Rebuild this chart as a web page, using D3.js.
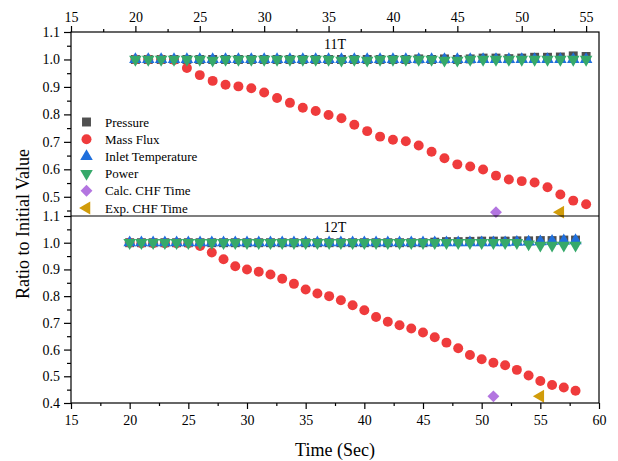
<!DOCTYPE html>
<html lang="en">
<head>
<meta charset="UTF-8">
<title>Ratio to Initial Value</title>
<script src="https://d3js.org/d3.v7.min.js"></script>
<style>
 body {margin: 0; padding: 0; background: #fff;}
 svg {display: block; font-family: "Liberation Serif", "Times New Roman", serif;}
 .axis path, .axis line {stroke: #000; stroke-width: 1.2px;}
 .axis text {font-size: 14px; fill: #000; font-family: "Liberation Serif", serif;}
 .frame {fill: none; stroke: #000; stroke-width: 1.2px;}
 .legend text {font-size: 13px; fill: #000;}
 .panel-title {font-size: 14px; text-anchor: middle;}
 .axis-title {font-size: 18px; text-anchor: middle;}
</style>
</head>
<body>
<svg id="chart" width="618" height="461"></svg>
<script>
// 11T run
const time11 = [20,21,22,23,24,25,26,27,28,29,30,31,32,33,34,35,36,37,38,39,40,41,42,43,44,45,46,47,48,49,50,51,52,53,54,55];
const pressure11 = [1.000,1.000,1.000,1.000,1.000,1.000,1.000,1.000,1.000,1.000,1.000,1.000,1.000,1.000,1.000,1.000,1.000,1.000,1.000,1.000,1.000,1.000,1.002,1.000,1.002,1.000,1.002,1.005,1.005,1.003,1.005,1.008,1.008,1.009,1.013,1.011];
const massFlux11 = [1.000,1.000,1.000,0.998,0.969,0.943,0.922,0.908,0.902,0.895,0.880,0.860,0.842,0.824,0.812,0.798,0.786,0.762,0.739,0.719,0.708,0.702,0.687,0.664,0.640,0.618,0.610,0.599,0.577,0.563,0.557,0.552,0.535,0.508,0.486,0.473];
const inletTemp11 = [1.000,1.000,1.000,1.000,1.000,1.000,1.000,1.000,1.000,1.000,1.000,1.000,1.000,1.000,1.000,1.000,1.000,1.000,1.000,1.000,1.000,1.000,1.000,1.000,1.000,1.000,1.000,1.000,1.000,1.000,1.000,1.000,1.000,1.000,1.000,1.000];
const power11 = [1.000,1.000,1.000,1.000,1.000,1.000,0.997,1.000,1.000,1.000,1.000,1.000,1.000,1.000,1.000,1.000,0.997,1.000,0.997,1.000,1.000,1.000,1.000,1.000,0.997,0.997,1.000,1.000,1.000,1.000,1.000,1.000,1.000,1.000,1.000,1.000];
const calcCHF11 = [{t: 48, v: 0.444}];
const expCHF11 = [{t: 53, v: 0.444}];

// 12T run
const time12 = [20,21,22,23,24,25,26,27,28,29,30,31,32,33,34,35,36,37,38,39,40,41,42,43,44,45,46,47,48,49,50,51,52,53,54,55,56,57,58];
const pressure12 = [1.000,1.000,1.000,1.000,1.000,1.000,1.000,1.000,1.000,1.000,1.000,1.000,1.000,1.000,1.000,1.000,1.000,1.000,1.000,1.000,1.000,1.000,1.000,1.000,1.000,1.000,1.002,1.004,1.004,1.005,1.006,1.006,1.006,1.007,1.007,1.008,1.008,1.010,1.010];
const massFlux12 = [1.000,0.998,0.998,0.998,0.998,0.998,0.988,0.963,0.938,0.912,0.900,0.891,0.881,0.865,0.846,0.825,0.810,0.800,0.785,0.766,0.747,0.722,0.704,0.691,0.679,0.664,0.646,0.626,0.605,0.580,0.564,0.551,0.541,0.524,0.503,0.482,0.467,0.458,0.446];
const inletTemp12 = [1.000,1.000,1.000,1.000,1.000,1.000,1.000,1.000,1.000,1.000,1.000,1.000,1.000,1.000,1.000,1.000,1.000,1.000,1.000,1.000,1.000,1.000,1.000,1.000,1.000,1.000,1.000,1.000,1.000,1.000,1.000,1.000,1.000,1.002,1.003,1.004,1.006,1.007,1.008];
const power12 = [1.000,1.000,1.000,1.000,1.000,1.000,1.000,1.000,1.000,1.000,1.000,1.000,1.000,1.000,1.000,1.000,1.000,1.000,1.000,1.000,1.000,1.000,1.000,1.000,1.000,1.000,1.000,1.000,1.000,1.000,1.000,1.000,1.000,1.000,0.995,0.990,0.990,0.990,0.990];
const calcCHF12 = [{t: 51, v: 0.425}];
const expCHF12 = [{t: 55, v: 0.425}];

const seriesNames = ['Pressure', 'Mass Flux', 'Inlet Temperature', 'Power', 'Calc. CHF Time', 'Exp. CHF Time'];

const xTicks11 = [15,20,25,30,35,40,45,50,55];
const xTicks12 = [15,20,25,30,35,40,45,50,55,60];
const yTicks11 = [0.5,0.6,0.7,0.8,0.9,1.0,1.1];
const yTicks12 = [0.4,0.5,0.6,0.7,0.8,0.9,1.0,1.1];

const styles = [
  {color: '#505050', type: d3.symbolSquare, size: 80, rot: 0},
  {color: '#ef3b3c', type: d3.symbolCircle, size: 78, rot: 0},
  {color: '#1f6fdc', type: d3.symbolTriangle, size: 68, rot: 0},
  {color: '#36a96a', type: d3.symbolTriangle, size: 68, rot: 180},
  {color: '#b375e0', type: d3.symbolDiamond2, size: 90, rot: 0},
  {color: '#d19c0a', type: d3.symbolTriangle, size: 72, rot: -90}
];

const svg = d3.select('#chart');
const left = 71, right = 599;
const top1 = 32, mid = 216, bot2 = 403;

const x11 = d3.scaleLinear().domain([15, 56]).range([left, right]);
const x12 = d3.scaleLinear().domain([15, 60]).range([left, right]);
const y11 = d3.scaleLinear().domain([0.43, 1.1]).range([mid, top1]);
const y12 = d3.scaleLinear().domain([0.4, 1.1]).range([bot2, mid]);

function minors(ticks, step) {
  return ticks.slice(0, -1).map(t => +(t + step).toFixed(3));
}

function marker(g, pts, xs, ys, st) {
  const sym = d3.symbol().type(st.type).size(st.size);
  g.selectAll(null).data(pts).enter().append('path')
    .attr('d', sym)
    .attr('fill', st.color)
    .attr('transform', d => `translate(${xs(d.t)},${ys(d.v)}) rotate(${st.rot})`);
}

function drawPanel(times, cols, calc, exp, xs, ys, title, titleY) {
  const g = svg.append('g');
  cols.forEach((vals, i) => {
    const pts = times.map((t, j) => ({t, v: vals[j]}));
    marker(g, pts, xs, ys, styles[i]);
  });
  marker(g, calc, xs, ys, styles[4]);
  marker(g, exp, xs, ys, styles[5]);
  svg.append('text').attr('class', 'panel-title')
    .attr('x', 335).attr('y', titleY).text(title);
}

drawPanel(time11, [pressure11, massFlux11, inletTemp11, power11], calcCHF11, expCHF11, x11, y11, '11T', 49);
drawPanel(time12, [pressure12, massFlux12, inletTemp12, power12], calcCHF12, expCHF12, x12, y12, '12T', 232);

// frames
svg.append('rect').attr('class', 'frame')
  .attr('x', left).attr('y', top1).attr('width', right - left).attr('height', bot2 - top1);
svg.append('line').attr('class', 'frame')
  .attr('x1', left).attr('x2', right).attr('y1', mid).attr('y2', mid).attr('stroke', '#000').attr('stroke-width', 1.2);

// axes
function addAxis(axis, tx, ty) {
  const g = svg.append('g').attr('class', 'axis')
    .attr('transform', `translate(${tx},${ty})`).call(axis)
    .attr('font-family', '"Liberation Serif", serif').attr('font-size', 14);
  g.select('.domain').remove();
  return g;
}

addAxis(d3.axisTop(x11).tickValues(xTicks11).tickSize(6).tickPadding(4).tickFormat(d3.format('d')), 0, top1);
addAxis(d3.axisTop(x11).tickValues(minors(xTicks11, 2.5)).tickSize(3).tickFormat(''), 0, top1);
addAxis(d3.axisBottom(x12).tickValues(xTicks12).tickSize(6).tickPadding(6).tickFormat(d3.format('d')), 0, bot2);
addAxis(d3.axisBottom(x12).tickValues(minors(xTicks12, 2.5)).tickSize(3).tickFormat(''), 0, bot2);

addAxis(d3.axisLeft(y11).tickValues(yTicks11).tickSize(7).tickPadding(4).tickFormat(d3.format('.1f')), left, 0);
addAxis(d3.axisLeft(y11).tickValues([0.45].concat(minors(yTicks11, 0.05))).tickSize(4).tickFormat(''), left, 0);
addAxis(d3.axisLeft(y12).tickValues(yTicks12).tickSize(7).tickPadding(4).tickFormat(d3.format('.1f')), left, 0);
addAxis(d3.axisLeft(y12).tickValues(minors(yTicks12, 0.05)).tickSize(4).tickFormat(''), left, 0);

// legend
const legend = svg.append('g').attr('class', 'legend');
seriesNames.forEach((name, i) => {
  const yy = 122 + i * 17.2;
  const st = styles[i];
  legend.append('path')
    .attr('d', d3.symbol().type(st.type).size(st.size)())
    .attr('fill', st.color)
    .attr('transform', `translate(86.5,${yy}) rotate(${st.rot})`);
  legend.append('text').attr('x', 105).attr('y', yy + 4.5).text(name);
});

// axis titles
svg.append('text').attr('class', 'axis-title')
  .attr('x', 335).attr('y', 456).text('Time (Sec)');
svg.append('text').attr('class', 'axis-title')
  .attr('transform', 'translate(29,224) rotate(-90)').text('Ratio to Initial Value');
</script>
</body>
</html>
